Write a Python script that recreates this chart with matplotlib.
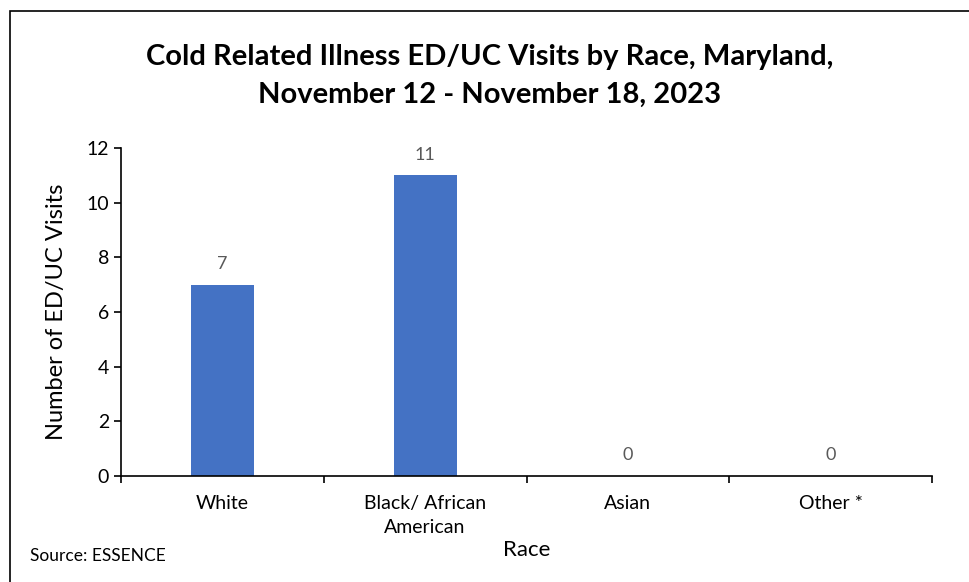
import numpy as np
import matplotlib.pyplot as plt
from matplotlib.patches import Rectangle

# dados
categories = ["White", "Black/ African\nAmerican", "Asian", "Other *"]
visits = [7, 11, 0, 0]
y_ticks = [0, 2, 4, 6, 8, 10, 12]

plt.rcParams["font.family"] = ["Lato", "DejaVu Sans"]

W, H = 969, 582
fig = plt.figure(figsize=(W / 100, H / 100), dpi=100)
ax = fig.add_axes([121 / W, 1 - 476 / H, (932 - 121) / W, (476 - 148) / H])

x = np.arange(len(categories))
bars = ax.bar(x, visits, width=0.31, color="#4472C4")

for b, v in zip(bars, visits):
    ax.annotate(str(v), (b.get_x() + b.get_width() / 2, v), xytext=(0, 9),
                textcoords="offset points", ha="center", va="bottom",
                fontsize=13, color="#595959")

ax.set_xlim(-0.5, len(categories) - 0.5)
ax.set_ylim(0, 12)
ax.set_yticks(y_ticks)
ax.tick_params(axis="y", labelsize=14, length=5, width=1.2, direction="out")

# rótulos no centro, marcas entre as categorias (estilo Excel)
ax.set_xticks(x)
ax.set_xticklabels(categories, fontsize=14, linespacing=1.45)
ax.tick_params(axis="x", which="major", length=0, pad=14)
ax.set_xticks(np.arange(-0.5, len(categories)), minor=True)
ax.tick_params(axis="x", which="minor", length=5, width=1.2)

for s in ["top", "right"]:
    ax.spines[s].set_visible(False)
ax.spines["left"].set_linewidth(1.2)
ax.spines["bottom"].set_linewidth(1.2)

ax.set_ylabel("Number of ED/UC Visits", fontsize=17, labelpad=14)
ax.set_xlabel("Race", fontsize=16, labelpad=3)

fig.text(490 / W, 1 - 76 / H,
         "Cold Related Illness ED/UC Visits by Race, Maryland,\nNovember 12 - November 18, 2023",
         ha="center", va="center", fontsize=21, fontweight="bold", linespacing=1.55)
fig.text(30 / W, 1 - 556 / H, "Source: ESSENCE", ha="left", va="center", fontsize=12.5)

# moldura (só topo e esquerda visíveis)
fig.patches.append(Rectangle((10 / W, -0.1), 1.2, 1 - 11 / H + 0.1, transform=fig.transFigure,
                             fill=False, edgecolor="black", linewidth=1.2))

fig.savefig("out.png", dpi=100)
